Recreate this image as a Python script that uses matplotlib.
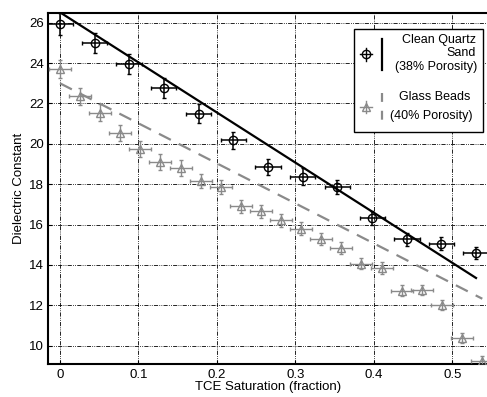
import matplotlib
matplotlib.use("Agg")
import matplotlib.pyplot as plt
from matplotlib.lines import Line2D
from matplotlib.patches import Rectangle

plt.rcParams['font.family'] = ['Liberation Sans', 'DejaVu Sans']

# clean quartz sand (38% porosity)
sand_x = [0.0, 0.044, 0.088, 0.132, 0.177, 0.221, 0.265, 0.309, 0.353, 0.398, 0.442, 0.486, 0.530]
sand_y = [25.92, 25.0, 23.97, 22.77, 21.5, 20.17, 18.85, 18.38, 17.87, 16.33, 15.27, 15.05, 14.59]
sand_yerr = [0.55, 0.5, 0.5, 0.48, 0.45, 0.42, 0.4, 0.4, 0.35, 0.35, 0.33, 0.33, 0.3]
sand_xerr = 0.016
sand_fit_x = [0.0, 0.53]
sand_fit_y = [26.52, 13.35]

# glass beads (40% porosity)
beads_x = [0.0, 0.0256, 0.0512, 0.0768, 0.1024, 0.128, 0.1536, 0.1792, 0.2048, 0.2304, 0.256,
           0.2816, 0.3072, 0.3328, 0.3584, 0.384, 0.4096, 0.4352, 0.4608, 0.4864, 0.512, 0.5376]
beads_y = [23.7, 22.36, 21.55, 20.52, 19.73, 19.1, 18.8, 18.17, 17.84, 16.9, 16.65,
           16.2, 15.78, 15.26, 14.83, 14.05, 13.85, 12.72, 12.75, 12.0, 10.37, 9.24]
beads_yerr = [0.45, 0.42, 0.42, 0.4, 0.4, 0.38, 0.38, 0.35, 0.35, 0.33, 0.33,
              0.32, 0.32, 0.3, 0.3, 0.28, 0.28, 0.26, 0.26, 0.25, 0.24, 0.22]
beads_xerr = 0.014
beads_fit_x = [0.0, 0.538]
beads_fit_y = [23.0, 12.32]

xticks = [0, 0.1, 0.2, 0.3, 0.4, 0.5]
xticklabels = ["0", "0.1", "0.2", "0.3", "0.4", "0.5"]
yticks = [10, 12, 14, 16, 18, 20, 22, 24, 26]

W, H = 487, 397
fig = plt.figure(figsize=(W / 100, H / 100), dpi=100)
ax = fig.add_axes([48.2 / W, 1 - 363.7 / H, (487.8 - 48.2) / W, (363.7 - 12.7) / H])

gray = "#8a8a8a"
grid_ls = (0, (5, 1.5, 1, 1.5, 1, 1.5))

ax.errorbar(beads_x, beads_y, xerr=beads_xerr, yerr=beads_yerr, fmt="^", mfc="none",
            mec=gray, ecolor=gray, ms=6, mew=1.0, elinewidth=1.0, capsize=1.5, zorder=3)
ax.plot(beads_fit_x, beads_fit_y, color=gray, lw=1.6, dashes=(6, 4), zorder=2)

ax.errorbar(sand_x, sand_y, xerr=sand_xerr, yerr=sand_yerr, fmt="o", mfc="none",
            mec="black", ecolor="black", ms=6, mew=1.0, elinewidth=1.1, capsize=1.5, zorder=4)
ax.plot(sand_fit_x, sand_fit_y, color="black", lw=1.6, zorder=4)

ax.set_xlim(-0.015, 0.545)
ax.set_ylim(9.1, 26.5)
ax.set_xticks(xticks)
ax.set_xticklabels(xticklabels)
ax.set_yticks(yticks)
ax.grid(True, color="black", lw=0.6, linestyle=grid_ls)
ax.tick_params(direction="in", length=3, labelsize=9.5, pad=3)
ax.tick_params(axis="x", pad=4)
for s in ["left", "bottom", "top"]:
    ax.spines[s].set_linewidth(1.5)
ax.spines["right"].set_visible(False)

ax.set_xlabel("TCE Saturation (fraction)", fontsize=9.5, labelpad=0)
ax.set_ylabel("Dielectric Constant", fontsize=9.5, labelpad=3)

# legend, drawn by hand in figure pixels
def fx(p):
    return p / W

def fy(p):
    return 1 - p / H

fig.add_artist(Rectangle((fx(354), fy(132.3)), fx(483.3) - fx(354), fy(29) - fy(132.3),
                         transform=fig.transFigure, fc="white", ec="black", lw=1.0, zorder=10))
fig.add_artist(Line2D([fx(365.7)], [fy(54.3)], marker="o", mfc="none", mec="black", ms=6,
                      mew=1.0, transform=fig.transFigure, zorder=11))
fig.add_artist(Line2D([fx(359.5), fx(372)], [fy(54.3), fy(54.3)], color="black", lw=1.0,
                      transform=fig.transFigure, zorder=11))
fig.add_artist(Line2D([fx(365.7), fx(365.7)], [fy(48), fy(60.5)], color="black", lw=1.0,
                      transform=fig.transFigure, zorder=11))
fig.add_artist(Line2D([fx(382.3), fx(382.3)], [fy(39), fy(70)], color="black", lw=1.6,
                      transform=fig.transFigure, zorder=11))
fig.add_artist(Line2D([fx(365.7)], [fy(106.7)], marker="^", mfc="none", mec=gray, ms=6,
                      mew=1.0, transform=fig.transFigure, zorder=11))
fig.add_artist(Line2D([fx(359.5), fx(372)], [fy(106.7), fy(106.7)], color=gray, lw=1.0,
                      transform=fig.transFigure, zorder=11))
fig.add_artist(Line2D([fx(365.7), fx(365.7)], [fy(100.5), fy(113)], color=gray, lw=1.0,
                      transform=fig.transFigure, zorder=11))
fig.add_artist(Line2D([fx(382.3), fx(382.3)], [fy(93), fy(125)], color=gray, lw=1.6,
                      dashes=(4, 4), transform=fig.transFigure, zorder=11))

tkw = dict(transform=fig.transFigure, fontsize=9, ha="right", va="center", zorder=12)
fig.text(fx(476), fy(40), "Clean Quartz", **tkw)
fig.text(fx(476), fy(53.3), "Sand", **tkw)
fig.text(fx(477), fy(66.7), "(38% Porosity)", **tkw)
fig.text(fx(470), fy(96.7), "Glass Beads", **tkw)
fig.text(fx(473), fy(115.7), "(40% Porosity)", **tkw)

fig.savefig("out.png", dpi=100)
